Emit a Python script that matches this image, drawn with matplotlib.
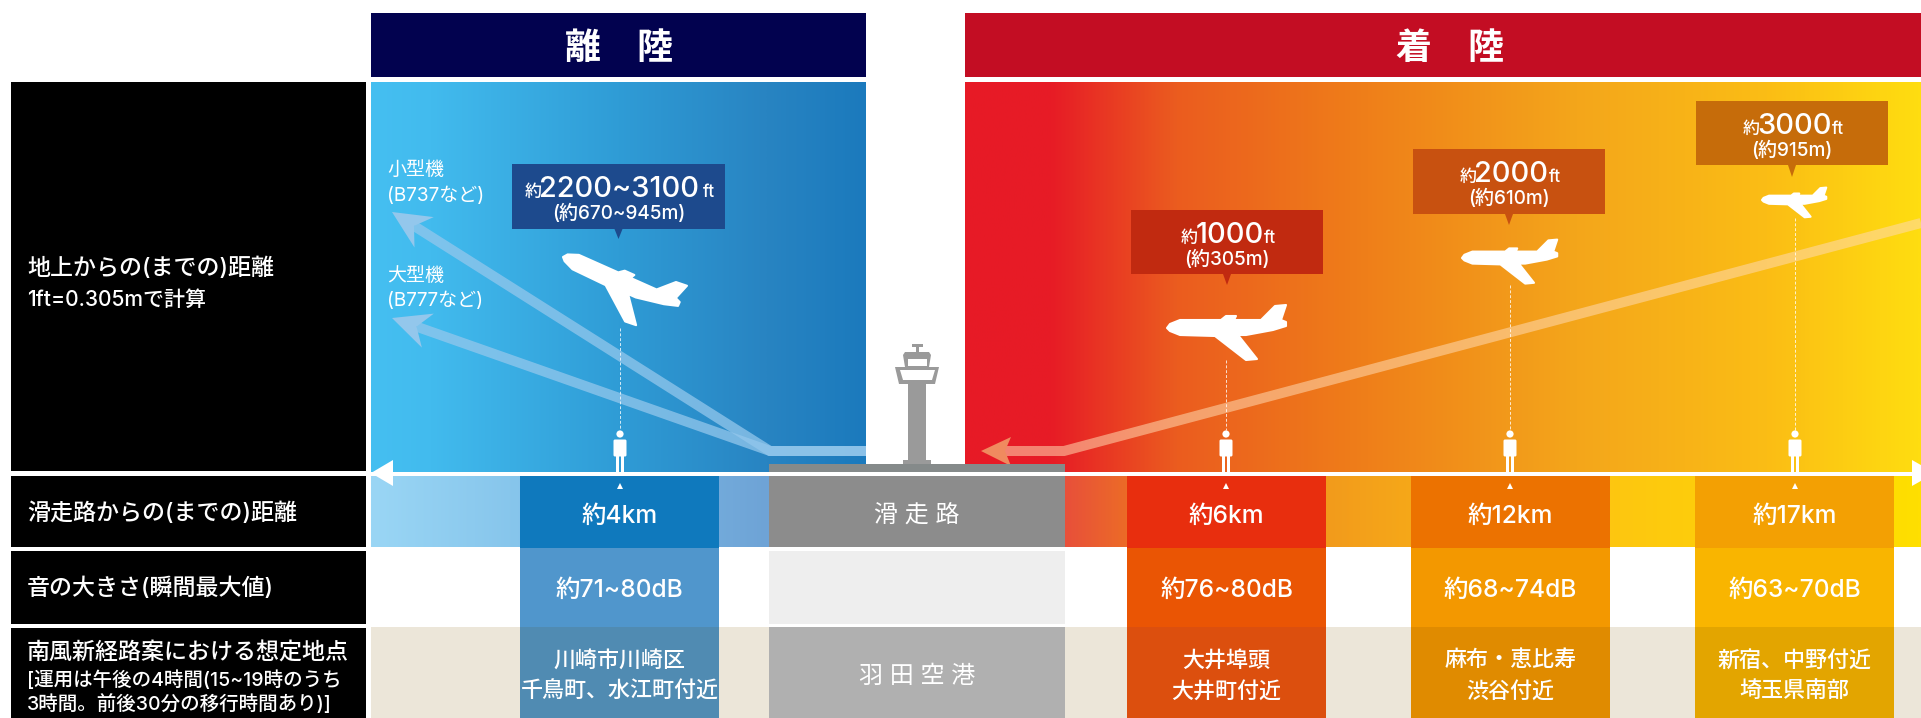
import numpy as np
import matplotlib
matplotlib.use('Agg')
import matplotlib.pyplot as plt
from matplotlib.colors import LinearSegmentedColormap
from matplotlib.patches import Rectangle, Polygon, Circle, FancyBboxPatch

plt.rcParams['font.family'] = ['Inter', 'Noto Sans CJK JP', 'DejaVu Sans']

# text / values
headers = ['離　陸', '着　陸']
row_labels = ['地上からの(までの)距離\n1ft=0.305mで計算', '滑走路からの(までの)距離',
              '音の大きさ(瞬間最大値)', '南風新経路案における想定地点']
row_note = '[運用は午後の4時間(15~19時のうち\n3時間。前後30分の移行時間あり)]'
aircraft = ['小型機\n(B737など)', '大型機\n(B777など)']
altitude_ft = ['2200~3100', '1000', '2000', '3000']
altitude_m = ['(約670~945m)', '(約305m)', '(約610m)', '(約915m)']
distance = ['約4km', '約6km', '約12km', '約17km']
loudness = ['約71~80dB', '約76~80dB', '約68~74dB', '約63~70dB']
places = ['川崎市川崎区\n千鳥町、水江町付近', '大井埠頭\n大井町付近', '麻布・恵比寿\n渋谷付近', '新宿、中野付近\n埼玉県南部']
runway_labels = ['滑 走 路', '羽 田 空 港']

# layout in pixels of the picture
W, H = 1921, 718
col_x = [520, 1127, 1411, 1695]
col_w = 199
mid_x = [620, 1226, 1510, 1795]
box = [(512, 164, 725, 229, 239), (1131, 210, 1323, 274, 285),
       (1413, 149, 1605, 214, 225), (1696, 101, 1888, 165, 177)]
box_col = ['#1d4a8d', '#c12a10', '#c85110', '#c66c0a']
col_row2 = ['#0f79bd', '#e82e0e', '#ec7200', '#f3a003']
col_row3 = ['#5096cc', '#ea5504', '#f39800', '#f9b500']
col_row4 = ['#508bb2', '#dc4f0e', '#e08b00', '#e3a500']
# nose x, nose y, scale, rotation
planes = [(563, 257, 1.05, 24), (1167, 328, 1.0, 0), (1462, 258, 0.8, 0), (1762, 200, 0.54, 0)]
plane_bottom = [328, 360, 285, 218]

fig = plt.figure(figsize=(19.21, 7.18), dpi=100)
ax = fig.add_axes([0, 0, 1, 1])


def fs(px):
    return px * 0.72


def rect(x0, y0, x1, y1, c, z=2, **kw):
    ax.add_patch(Rectangle((x0, y0), x1 - x0, y1 - y0, fc=c, ec='none', zorder=z, **kw))


def grad(x0, y0, x1, y1, stops, z=1):
    cmap = LinearSegmentedColormap.from_list('g', stops)
    ax.imshow(np.linspace(0, 1, 512).reshape(1, -1), extent=(x0, x1, y1, y0), cmap=cmap,
              aspect='auto', zorder=z, interpolation='bilinear')


def label(x, y, s, px, **kw):
    kw.setdefault('va', 'center')
    kw.setdefault('fontweight', 'medium')
    ax.text(x, y, s, color='white', fontsize=fs(px), zorder=6, **kw)


# headers and black label panels
rect(371, 13, 866, 77, '#02024f')
rect(965, 13, 1921, 77, '#c30d23')
for (cx, t) in zip([619, 1450], headers):
    label(cx, 49, t, 36, fontweight='bold', ha='center')
for y0, y1 in [(82, 471), (476, 547), (551, 624), (628, 718)]:
    rect(11, y0, 366, y1, 'black')

label(27, 269, row_labels[0].split('\n')[0], 23)
label(27, 300, row_labels[0].split('\n')[1], 21)
label(27, 514, row_labels[1], 23)
label(27, 589, row_labels[2], 23)
label(27, 654, row_labels[3], 23)
label(27, 680, row_note.split('\n')[0], 19.5)
label(27, 704, row_note.split('\n')[1], 19.5)

# sky panels
grad(371, 82, 866, 472, [(0, '#45bff1'), (0.12, '#42bbee'), (0.5, '#2f9cd6'), (0.8, '#2884c2'), (1, '#1b7abd')])
grad(965, 82, 1921, 472, [(0, '#e71a26'), (0.09, '#e71c26'), (0.22, '#eb5c1f'), (0.42, '#ef7f19'),
                          (0.64, '#f4a61b'), (0.84, '#fbbd15'), (1, '#ffdd10')])

# lower rows
rect(371, 627, 1921, 718, '#ece6d9')
grad(371, 476, 769, 547, [(0, '#9ad6f5'), (0.5, '#7fbfe8'), (1, '#6ea3d6')])
grad(1065, 476, 1921, 547, [(0, '#e8503a'), (0.07, '#ec6b27'), (0.3, '#f29a1c'), (0.62, '#fdc511'), (1, '#ffdf00')])
rect(769, 464, 1065, 473, '#858a8a', z=4)
rect(769, 476, 1065, 547, '#8c8c8c')
rect(769, 551, 1065, 624, '#eeeeee')
rect(769, 627, 1065, 718, '#b0b0b0')
label(917, 515, runway_labels[0], 24, fontweight='normal', ha='center')
label(917, 677, runway_labels[1], 24, fontweight='normal', ha='center')

for i, x0 in enumerate(col_x):
    rect(x0, 476, x0 + col_w, 548, col_row2[i], z=3)
    rect(x0, 548, x0 + col_w, 627, col_row3[i], z=3)
    rect(x0, 627, x0 + col_w, 718, col_row4[i], z=3)
    xm = x0 + col_w / 2
    label(xm, 516, distance[i], 24.5, ha='center')
    label(xm, 590, loudness[i], 24.5, ha='center')
    a, b = places[i].split('\n')
    label(xm, 660, a, 22, ha='center')
    label(xm, 691, b, 22, ha='center')
    ax.add_patch(Polygon([(mid_x[i], 483), (mid_x[i] - 3, 489), (mid_x[i] + 3, 489)], fc='white', ec='none', zorder=5))

# flight paths
blue_path = '#93c7ec'
for ty in [212, 318]:
    dx, dy = 392 - 770, ty - 451
    n = np.hypot(dx, dy)
    ux, uy = dx / n, dy / n
    px, py = -uy, ux
    ax.plot([866, 770, 392 - ux * 26], [451, 451, ty - uy * 26], color=blue_path, lw=fs(10), alpha=0.75,
            solid_joinstyle='miter', solid_capstyle='butt', zorder=3)
    ax.add_patch(Polygon([(392, ty), (392 - ux * 38 + px * 18, ty - uy * 38 + py * 18), (392 - ux * 26, ty - uy * 26),
                          (392 - ux * 38 - px * 18, ty - uy * 38 - py * 18)], fc=blue_path, ec='none', zorder=3))
ax.plot([1921, 1064, 1005], [223, 451, 451], color='#ffd9b0', lw=fs(10), alpha=0.55,
        solid_joinstyle='miter', solid_capstyle='butt', zorder=3)
ax.add_patch(Polygon([(981, 451), (1011, 437), (1005, 451), (1011, 466)], fc='#f08a5f', ec='none', zorder=3))

# dashed lines, people, callouts, planes
plane_shape = np.array([(0, 0), (3, -4), (13, -8), (54, -8), (59, -12), (69, -12), (67, -8), (94, -8), (108, -22),
                        (119, -23), (114, -8), (119, -6), (119, -2), (106, 2), (79, 7), (71, 7), (90, 31), (79, 32),
                        (48, 8), (13, 7), (3, 3)], dtype=float)

for i in range(4):
    x = mid_x[i]
    ax.plot([x, x], [plane_bottom[i], 430], color='white', lw=0.7, ls=(0, (3, 2)), alpha=0.8, zorder=3)
    ax.add_patch(Circle((x, 434), 3.6, fc='white', ec='none', zorder=5))
    ax.add_patch(FancyBboxPatch((x - 5, 441), 10, 14, boxstyle='round,pad=1.5', fc='white', ec='none', zorder=5))
    rect(x - 4, 455, x - 0.7, 473, 'white', z=5)
    rect(x + 0.7, 455, x + 4, 473, 'white', z=5)

    nx, ny, sc, rot = planes[i]
    t = np.radians(rot)
    rm = np.array([[np.cos(t), -np.sin(t)], [np.sin(t), np.cos(t)]])
    pts = plane_shape * sc @ rm.T + [nx, ny]
    ax.add_patch(Polygon(pts, fc='white', ec='white', lw=1.5, joinstyle='round', zorder=5))

    x0, y0, x1, y1, tip = box[i]
    tx = (x0 + x1) / 2
    rect(x0, y0, x1, y1, box_col[i], z=4)
    ax.add_patch(Polygon([(tx - 4, y1), (tx + 4, y1), (tx, tip)], fc=box_col[i], ec='none', zorder=4))

fig.canvas.draw()
rend = fig.canvas.get_renderer()


def runs(xc, y, parts):
    # parts are (text, px size); placed one after the other around xc
    arts = [ax.text(0, y, s, color='white', fontsize=fs(p), fontweight='medium', ha='left', va='baseline', zorder=6) for s, p in parts]
    inv = ax.transData.inverted()
    ws = []
    for a in arts:
        b = a.get_window_extent(rend)
        ws.append(inv.transform((b.x1, 0))[0] - inv.transform((b.x0, 0))[0] - 3)
    x = xc - sum(ws) / 2
    for a, w in zip(arts, ws):
        a.set_x(x)
        x += w


for i in range(4):
    x0, y0, x1, y1, tip = box[i]
    runs((x0 + x1) / 2, y0 + 33, [('約', 17), (altitude_ft[i], 29), ('ft', 17)])
    label((x0 + x1) / 2, y0 + 49, altitude_m[i], 19, ha='center')

# aircraft labels
label(387, 170, aircraft[0].split('\n')[0], 19, fontweight='normal')
label(387, 196, aircraft[0].split('\n')[1], 19, fontweight='normal')
label(387, 276, aircraft[1].split('\n')[0], 19, fontweight='normal')
label(387, 301, aircraft[1].split('\n')[1], 19, fontweight='normal')

# ground axis with arrow heads
rect(371, 471.5, 1921, 475.5, 'white', z=6)
ax.add_patch(Polygon([(371, 473), (393, 460), (393, 486)], fc='white', ec='none', zorder=6))
ax.add_patch(Polygon([(1912, 460), (1912, 486), (1935, 473)], fc='white', ec='none', zorder=6))

# control tower
tower = '#9a9a9a'
rect(908, 382, 926, 461, tower, z=3)
rect(903, 460, 931, 465, tower, z=3)
ax.add_patch(Polygon([(895, 367), (939, 367), (935, 384), (899, 384)], fc=tower, ec='none', zorder=3))
ax.add_patch(Polygon([(900, 370), (935, 370), (932, 380), (903, 380)], fc='white', ec='none', zorder=3.5))
ax.add_patch(Polygon([(903, 355), (905, 352), (929, 352), (931, 355), (929, 367), (905, 367)], fc=tower, ec='none', zorder=3))
rect(908, 359, 927, 366, 'white', z=3.5)
rect(916, 345, 919, 353, tower, z=3)
rect(912, 344, 923, 347, tower, z=3)

ax.set_xlim(0, W)
ax.set_ylim(H, 0)
ax.axis('off')
fig.savefig('out.png', dpi=100)
